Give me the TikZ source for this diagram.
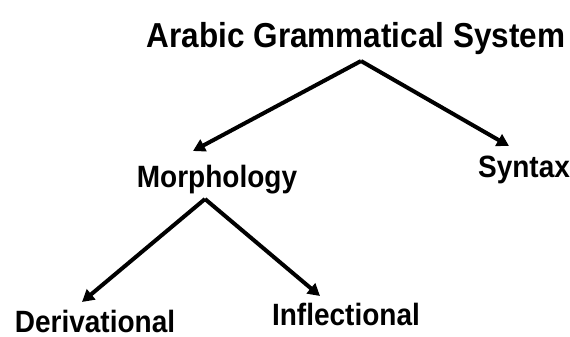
\documentclass[tikz,border=0pt]{standalone}
\usepackage{fontspec}
\usepackage{graphicx}
\setmainfont{Liberation Sans}
\usetikzlibrary{arrows.meta}
\newcommand{\tallt}[1]{\scalebox{1}[1.1]{#1}}
\tikzset{
  lbl/.style={anchor=base, inner sep=0pt, font=\bfseries\fontsize{28}{30}\selectfont},
  ttl/.style={anchor=base, inner sep=0pt, font=\bfseries\fontsize{31.5}{34}\selectfont},
  conn/.style={line width=4pt, -{Triangle[length=12pt,width=13pt]}, line join=miter}
}
\begin{document}
\begin{tikzpicture}[x=1pt,y=-1pt]
\useasboundingbox (0,0) rectangle (570,337);
\fill[white] (0,0) rectangle (570,337);
\node[ttl] (title) at (356,48) {\tallt{Arabic Grammatical System}};
\node[lbl] (morph) at (217,187) {\tallt{Morphology}};
\node[lbl] (syn) at (524,177) {\tallt{Syntax}};
\node[lbl] (der) at (95,332) {\tallt{Derivational}};
\node[lbl] (inf) at (346,325) {\tallt{Inflectional}};
\coordinate (ta) at (361,61);
\coordinate (tm) at (193,151);
\coordinate (ts) at (509,146);
\coordinate (ma) at (205,199);
\coordinate (md) at (82,302);
\coordinate (mi) at (320,296);
\draw[conn] (ta) -- (tm);
\draw[conn] (ta) -- (ts);
\draw[conn] (ma) -- (md);
\draw[conn] (ma) -- (mi);
\end{tikzpicture}
\end{document}
